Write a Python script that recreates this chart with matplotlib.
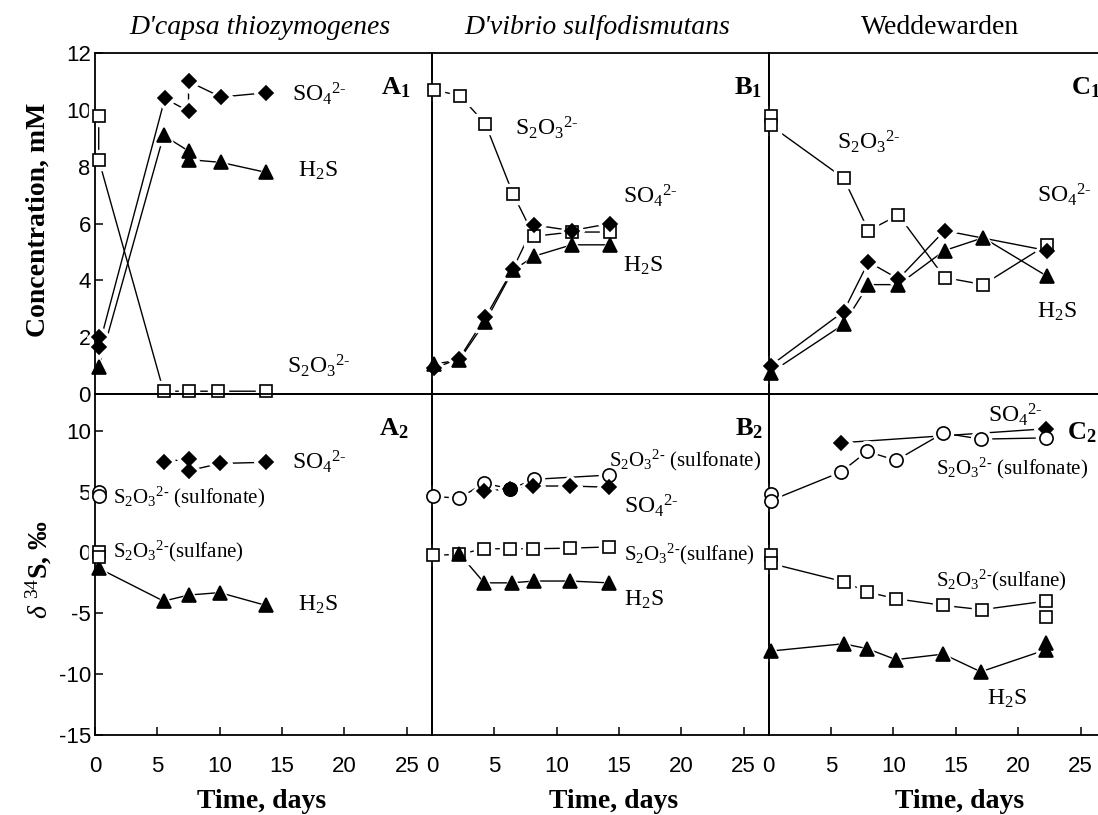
import matplotlib
matplotlib.use("Agg")
import matplotlib.pyplot as plt
import numpy as np

plt.rcParams["font.family"] = "Liberation Serif"
plt.rcParams["mathtext.fontset"] = "custom"
plt.rcParams["mathtext.rm"] = "Liberation Serif"
plt.rcParams["mathtext.it"] = "Liberation Serif:italic"
plt.rcParams["mathtext.bf"] = "Liberation Serif:bold"
plt.rcParams["axes.unicode_minus"] = False

# ---------------- DATA ----------------
titles = ["D'capsa thiozymogenes", "D'vibrio sulfodismutans", "Weddewarden"]
title_italic = [True, True, False]

# A1 - concentrations (mM)
a1_s2o3_t = [0.3, 0.3, 5.5, 7.5, 9.9, 13.7]
a1_s2o3 = [9.8, 8.25, 0.1, 0.1, 0.1, 0.1]
a1_so4_t = [0.3, 0.3, 5.6, 7.5, 7.5, 10.1, 13.7]
a1_so4 = [2.0, 1.65, 10.4, 9.95, 11.0, 10.45, 10.6]
a1_h2s_t = [0.3, 5.5, 7.5, 7.5, 10.1, 13.7]
a1_h2s = [0.95, 9.1, 8.55, 8.25, 8.15, 7.8]

# B1
b1_s2o3_t = [0.15, 2.25, 4.3, 6.5, 8.2, 11.2, 14.3]
b1_s2o3 = [10.7, 10.5, 9.5, 7.05, 5.55, 5.7, 5.7]
b1_so4_t = [0.15, 2.2, 4.3, 6.5, 8.2, 11.2, 14.3]
b1_so4 = [0.9, 1.25, 2.7, 4.4, 5.95, 5.75, 6.0]
b1_h2s_t = [0.15, 2.2, 4.3, 6.5, 8.2, 11.2, 14.3]
b1_h2s = [1.05, 1.2, 2.55, 4.35, 4.85, 5.25, 5.25]

# C1
c1_s2o3_t = [0.15, 0.15, 6.0, 8.0, 10.4, 14.1, 17.2, 22.3]
c1_s2o3 = [9.8, 9.45, 7.6, 5.75, 6.3, 4.1, 3.85, 5.25]
c1_so4_t = [0.15, 6.0, 8.0, 10.4, 14.1, 22.3]
c1_so4 = [1.0, 2.9, 4.65, 4.05, 5.75, 5.05]
c1_h2s_t = [0.15, 6.0, 8.0, 10.4, 14.1, 17.2, 22.3]
c1_h2s = [0.75, 2.45, 3.85, 3.85, 5.05, 5.5, 4.15]

# A2 - delta 34S (permil)
a2_so4_t = [5.5, 7.5, 7.5, 10.0, 13.7]
a2_so4 = [7.4, 7.7, 6.7, 7.3, 7.4]
a2_sulfonate_t = [0.3, 0.3]
a2_sulfonate = [4.95, 4.6]
a2_sulfane_t = [0.3, 0.3]
a2_sulfane = [0.0, -0.4]
a2_h2s_t = [0.3, 5.5, 7.5, 10.0, 13.7]
a2_h2s = [-1.3, -4.0, -3.5, -3.3, -4.35]

# B2
b2_sulfonate_t = [0.1, 2.2, 4.2, 6.3, 8.2, 14.2]
b2_sulfonate = [4.6, 4.45, 5.7, 5.2, 6.0, 6.35]
b2_sulfonate_filled = [False, False, False, True, False, False]
b2_so4_t = [4.2, 6.3, 8.1, 11.1, 14.2]
b2_so4 = [5.05, 5.2, 5.45, 5.45, 5.35]
b2_sulfane_t = [0.1, 2.2, 4.2, 6.3, 8.1, 11.1, 14.2]
b2_sulfane = [-0.25, -0.15, 0.3, 0.3, 0.3, 0.35, 0.45]
b2_h2s_t = [2.2, 4.2, 6.4, 8.2, 11.1, 14.2]
b2_h2s = [-0.1, -2.5, -2.5, -2.35, -2.35, -2.5]

# C2
c2_so4_t = [5.8, 22.2]
c2_so4 = [9.0, 10.15]
c2_sulfonate_t = [0.15, 0.15, 5.8, 7.9, 10.2, 14.0, 17.0, 22.2]
c2_sulfonate = [4.8, 4.25, 6.6, 8.3, 7.55, 9.8, 9.3, 9.4]
c2_sulfane_t = [0.15, 0.15, 6.0, 7.9, 10.2, 14.0, 17.1, 22.2, 22.2]
c2_sulfane = [-0.25, -0.9, -2.4, -3.25, -3.8, -4.35, -4.7, -4.0, -5.3]
c2_h2s_t = [0.15, 6.0, 7.9, 10.2, 14.0, 17.0, 22.2, 22.2]
c2_h2s = [-8.1, -7.5, -7.9, -8.8, -8.35, -9.8, -8.0, -7.4]

so4 = r"SO$_4$$^{2\text{-}}$"
h2s = r"H$_2$S"
s2o3 = r"S$_2$O$_3$$^{2\text{-}}$"
sulfonate = r"S$_2$O$_3$$^{2\text{-}}$ (sulfonate)"
sulfane = r"S$_2$O$_3$$^{2\text{-}}$(sulfane)"

# ---------------- HELPERS ----------------
def draw(ax, t, y, marker, filled, ms, line=True):
    if line:
        ax.plot(t, y, color="black", lw=1.0, zorder=2, clip_on=False)
    # white halo so the connecting lines stop short of the symbols
    ax.plot(t, y, ls="none", marker=marker, ms=ms + 5, mfc="white", mec="white",
            zorder=3, clip_on=False)
    ax.plot(t, y, ls="none", marker=marker, ms=ms, mfc="black" if filled else "white",
            mec="black", mew=1.2, zorder=4, clip_on=False)


def square(ax, t, y, line=True):
    draw(ax, t, y, "s", False, 9, line)


def diamond(ax, t, y, line=True):
    draw(ax, t, y, "D", True, 7.5, line)


def triangle(ax, t, y, line=True):
    draw(ax, t, y, "^", True, 10, line)


def circle(ax, t, y, line=True):
    draw(ax, t, y, "o", False, 9.5, line)


def label(ax, x, y, s, size=17):
    ax.text(x, y, s, fontsize=size, va="baseline", ha="left", zorder=5)


def panel(ax, x, y, letter, num):
    ax.text(x, y, letter + r"$_\mathbf{" + num + "}$", fontsize=19,
            fontweight="bold", va="baseline", ha="left", zorder=5)


# ---------------- FIGURE ----------------
fig = plt.figure(figsize=(10.98, 8.15), dpi=100)
gs = fig.add_gridspec(2, 3, width_ratios=[27, 27, 26.4], left=0.0865, right=1.0,
                      top=0.935, bottom=0.098, wspace=0, hspace=0)
axes = [[fig.add_subplot(gs[r, c]) for c in range(3)] for r in range(2)]
xmax = [27, 27, 26.4]

for r in range(2):
    for c in range(3):
        ax = axes[r][c]
        ax.patch.set_visible(False)
        ax.set_xlim(0, xmax[c])
        if r == 0:
            ax.set_ylim(0, 12)
            ax.set_yticks(np.arange(0, 13, 2))
        else:
            ax.set_ylim(-15, 13)
            ax.set_yticks(np.arange(-15, 11, 5))
        ax.set_xticks(np.arange(0, 26, 5))
        for sp in ax.spines.values():
            sp.set_linewidth(1.3)
            sp.set_zorder(3.5)
        if c == 2:
            ax.spines["right"].set_visible(False)
        ax.tick_params(direction="in", length=6, width=1.1, labelsize=16,
                       labelfontfamily="Liberation Sans")
        ax.tick_params(axis="y", pad=3, left=(c == 0), labelleft=(c == 0))
        ax.tick_params(axis="x", pad=15, bottom=(r == 1), labelbottom=(r == 1))

# ---------------- TOP ROW ----------------
ax = axes[0][0]
square(ax, a1_s2o3_t, a1_s2o3)
diamond(ax, a1_so4_t, a1_so4)
triangle(ax, a1_h2s_t, a1_h2s)
label(ax, 15.8, 10.3, so4)
label(ax, 16.3, 7.65, h2s)
label(ax, 15.4, 0.75, s2o3)
panel(ax, 22.9, 10.55, "A", "1")

ax = axes[0][1]
square(ax, b1_s2o3_t, b1_s2o3)
triangle(ax, b1_h2s_t, b1_h2s)
diamond(ax, b1_so4_t, b1_so4)
label(ax, 6.65, 9.1, s2o3)
label(ax, 15.3, 6.7, so4)
label(ax, 15.3, 4.3, h2s)
panel(ax, 24.2, 10.55, "B", "1")

ax = axes[0][2]
square(ax, c1_s2o3_t, c1_s2o3)
triangle(ax, c1_h2s_t, c1_h2s)
diamond(ax, c1_so4_t, c1_so4)
label(ax, 5.5, 8.6, s2o3)
label(ax, 21.5, 6.75, so4)
label(ax, 21.5, 2.7, h2s)
panel(ax, 24.2, 10.55, "C", "1")

# ---------------- BOTTOM ROW ----------------
ax = axes[1][0]
diamond(ax, a2_so4_t, a2_so4)
circle(ax, a2_sulfonate_t, a2_sulfonate, line=False)
triangle(ax, a2_h2s_t, a2_h2s)
square(ax, a2_sulfane_t, a2_sulfane, line=False)
label(ax, 15.8, 6.8, so4)
label(ax, 1.45, 4.0, sulfonate, 15)
label(ax, 1.45, -0.4, sulfane, 15)
label(ax, 16.3, -4.75, h2s)
panel(ax, 22.8, 9.6, "A", "2")

ax = axes[1][1]
circle(ax, b2_sulfonate_t, b2_sulfonate)
diamond(ax, b2_so4_t, b2_so4)
for t, v, f in zip(b2_sulfonate_t, b2_sulfonate, b2_sulfonate_filled):
    if f:
        ax.plot(t, v, ls="none", marker="o", ms=9.5, mfc="black", mec="black", zorder=4.5)
square(ax, b2_sulfane_t, b2_sulfane)
triangle(ax, b2_h2s_t, b2_h2s)
label(ax, 14.2, 7.1, sulfonate, 15)
label(ax, 15.4, 3.2, so4)
label(ax, 15.4, -0.65, sulfane, 15)
label(ax, 15.4, -4.4, h2s)
panel(ax, 24.3, 9.6, "B", "2")

ax = axes[1][2]
diamond(ax, c2_so4_t, c2_so4)
circle(ax, c2_sulfonate_t, c2_sulfonate)
square(ax, c2_sulfane_t, c2_sulfane)
triangle(ax, c2_h2s_t, c2_h2s)
label(ax, 17.6, 10.7, so4)
label(ax, 13.4, 6.4, sulfonate, 15)
label(ax, 13.4, -2.75, sulfane, 15)
label(ax, 17.5, -12.5, h2s)
panel(ax, 23.9, 9.3, "C", "2")

# ---------------- TEXT ----------------
title_x = [0.49, 0.49, 0.52]
xlabel_x = [0.495, 0.54, 0.58]
for c in range(3):
    axes[0][c].text(title_x[c], 1.076, titles[c], transform=axes[0][c].transAxes,
                    ha="center", va="center", fontsize=20,
                    style="italic" if title_italic[c] else "normal")
    axes[1][c].text(xlabel_x[c], -0.196, "Time, days", transform=axes[1][c].transAxes,
                    ha="center", va="center", fontsize=20, fontweight="bold")

fig.text(0.035, 1 - 220 / 815, "Concentration, mM", rotation=90, ha="center",
         va="center", fontsize=20, fontweight="bold")
fig.text(0.035, 1 - 570 / 815, r"$\delta$ $^{34}$S, ‰", rotation=90, ha="center",
         va="center", fontsize=20, fontweight="bold")

fig.savefig("out.png", dpi=100)
